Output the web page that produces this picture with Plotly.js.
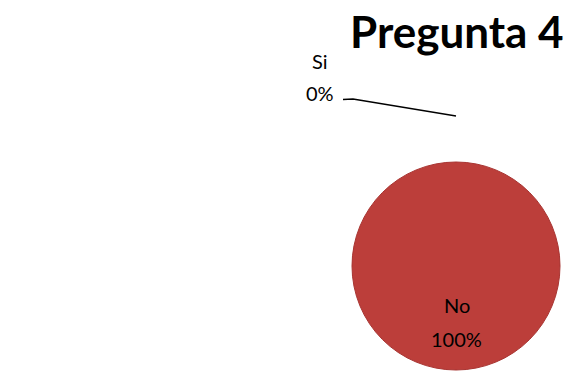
<!DOCTYPE html>
<html><head><meta charset="utf-8">
<script src="https://cdn.plot.ly/plotly-3.0.1.min.js"></script>
<style>html,body{margin:0;padding:0;background:#fff}</style>
</head><body>
<div id="chart" style="width:565px;height:372px"></div>
<script>
var categories = ["Si", "No"];
var values = [0, 100];
var percentLabels = ["0%", "100%"];
var titleText = "Pregunta 4";

var W = 565, H = 372;
function px(x){return x/W;}
function py(y){return 1 - y/H;}

var data = [{
  type: "pie",
  labels: categories,
  values: values,
  sort: false,
  direction: "clockwise",
  rotation: 0,
  textinfo: "none",
  hoverinfo: "label+percent",
  marker: {colors: ["#4F81BD", "#BC3E3A"], line: {color: "#A83431", width: 1}},
  domain: {x: [px(350), px(562)], y: [py(370), py(162)]},
  showlegend: false
}];

var layout = {
  width: W, height: H,
  margin: {l:0, r:0, t:0, b:0},
  paper_bgcolor: "#ffffff",
  showlegend: false,
  font: {family: "Lato, 'Open Sans', sans-serif", color: "#000"},
  annotations: [
    {text: "<b>" + titleText + "</b>", x: px(456.5), y: py(31), xref: "paper", yref: "paper",
     xanchor: "center", yanchor: "middle", showarrow: false,
     font: {size: 44, family: "Lato, 'Open Sans', sans-serif", color: "#000"}},
    {text: categories[0], x: px(320), y: py(61), xref: "paper", yref: "paper",
     xanchor: "center", yanchor: "middle", showarrow: false, font: {size: 20}},
    {text: percentLabels[0], x: px(320), y: py(93), xref: "paper", yref: "paper",
     xanchor: "center", yanchor: "middle", showarrow: false, font: {size: 20}},
    {text: categories[1], x: px(457), y: py(305), xref: "paper", yref: "paper",
     xanchor: "center", yanchor: "middle", showarrow: false, font: {size: 20}},
    {text: percentLabels[1], x: px(457), y: py(339), xref: "paper", yref: "paper",
     xanchor: "center", yanchor: "middle", showarrow: false, font: {size: 20}}
  ],
  shapes: [
    {type: "path", xref: "paper", yref: "paper",
     path: "M " + px(343) + " " + py(99.5) + " L " + px(353) + " " + py(99) + " L " + px(456) + " " + py(116),
     line: {color: "#000", width: 1.3}}
  ]
};

Plotly.newPlot("chart", data, layout, {displayModeBar: false, staticPlot: true});
</script>
</body></html>
